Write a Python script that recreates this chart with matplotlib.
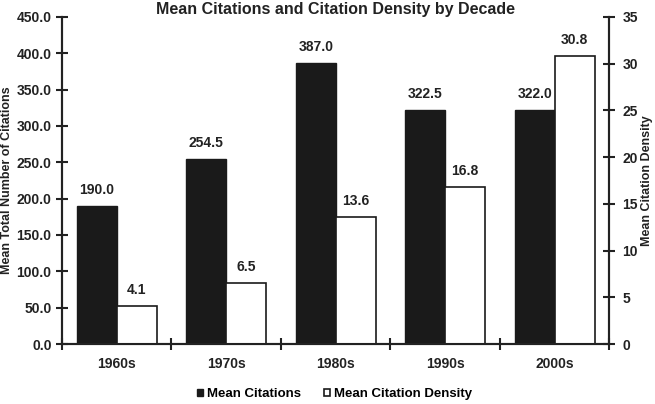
import matplotlib.pyplot as plt
import numpy as np

decades = ["1960s", "1970s", "1980s", "1990s", "2000s"]
mean_citations = [190.0, 254.5, 387.0, 322.5, 322.0]
citation_density = [4.1, 6.5, 13.6, 16.8, 30.8]

plt.rcParams['font.family'] = ['Liberation Sans', 'DejaVu Sans']
plt.rcParams['font.weight'] = 'bold'

fig = plt.figure(figsize=(6.55, 4.04), dpi=100)
ax = fig.add_axes([0.0947, 0.1485, 0.8356, 0.8095])
ax2 = ax.twinx()

x = np.arange(len(decades))
w = 0.365
b1 = ax.bar(x - w / 2, mean_citations, w, color='#1a1a1a', edgecolor='#1a1a1a',
            label='Mean Citations')
b2 = ax2.bar(x + w / 2, citation_density, w, color='white', edgecolor='#1a1a1a',
             linewidth=1.2, label='Mean Citation Density')

for r, v in zip(b1, mean_citations):
    ax.text(r.get_x() + r.get_width() / 2, v + 12, f"{v:.1f}", ha='center', va='bottom',
            fontsize=10, fontweight='bold', color='#222222')
for r, v in zip(b2, citation_density):
    ax2.text(r.get_x() + r.get_width() / 2, v + 0.95, f"{v:.1f}", ha='center', va='bottom',
             fontsize=10, fontweight='bold', color='#222222')

ax.set_xlim(-0.5, 4.5)
ax.set_ylim(0, 450)
ax2.set_ylim(0, 35)
ax.set_yticks(np.arange(0, 451, 50))
ax.set_yticklabels([f"{v:.1f}" for v in np.arange(0, 451, 50)])
ax2.set_yticks(np.arange(0, 36, 5))

ax.set_xticks(x)
ax.set_xticklabels(decades)
ax.set_xticks(np.arange(-0.5, 5, 1), minor=True)
ax.tick_params(axis='x', which='major', length=0, pad=9)
ax.tick_params(axis='x', which='minor', direction='inout', length=9, width=1.5, color='#222222')
ax.tick_params(axis='y', direction='inout', length=9, width=1.5, color='#222222', pad=3)
ax2.tick_params(axis='y', direction='inout', length=9, width=1.5, color='#222222', pad=5)

for a in (ax, ax2):
    a.spines['top'].set_visible(False)
    for s in ('left', 'right', 'bottom'):
        a.spines[s].set_linewidth(1.5)
        a.spines[s].set_color('#222222')
    for lab in a.get_xticklabels() + a.get_yticklabels():
        lab.set_fontsize(10)
        lab.set_fontweight('bold')
        lab.set_color('#222222')

ax.set_ylabel("Mean Total Number of Citations", fontsize=9, fontweight='bold', color='#222222')
ax2.set_ylabel("Mean Citation Density", fontsize=9, fontweight='bold', color='#222222')
ax.yaxis.set_label_coords(-0.09, 0.5)
ax2.yaxis.set_label_coords(1.058, 0.5)
ax.set_title("Mean Citations and Citation Density by Decade", fontsize=11.5, fontweight='bold',
             pad=-7, color='#222222')

fig.legend([b1, b2], ['Mean Citations', 'Mean Citation Density'], loc='center',
           bbox_to_anchor=(0.511, 0.024), ncol=2, frameon=False, fontsize=9.5,
           handlelength=0.5, handleheight=0.5, handletextpad=0.3, columnspacing=1.7)

fig.savefig("out.png", dpi=100)
